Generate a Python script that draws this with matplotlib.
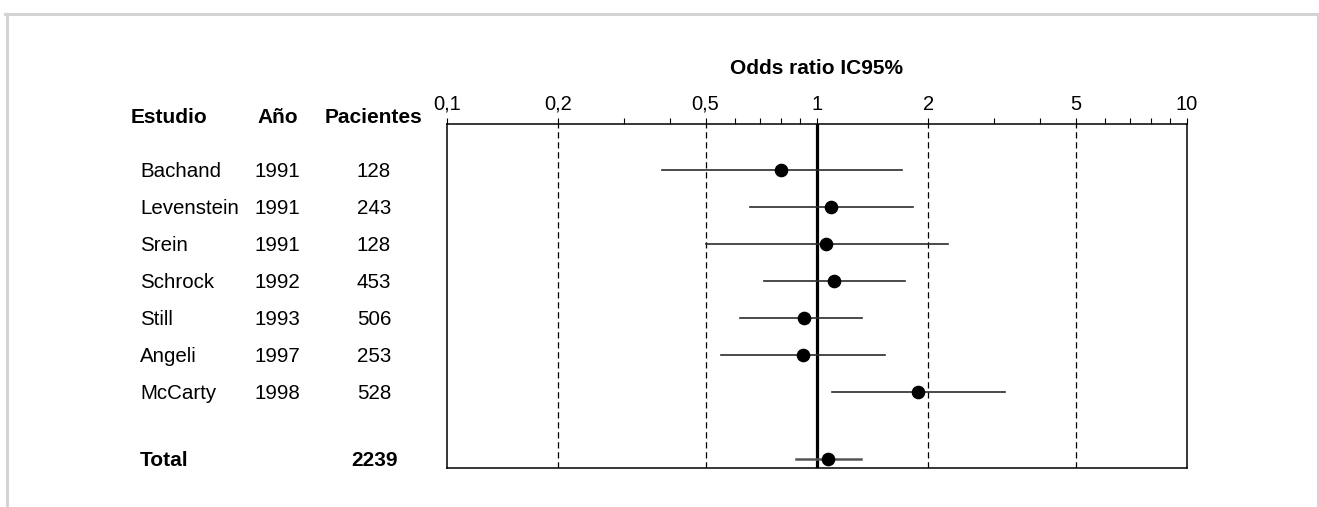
import numpy as np
import matplotlib
matplotlib.use("Agg")
from matplotlib import pyplot as plt
from matplotlib.transforms import blended_transform_factory
from matplotlib.lines import Line2D

plt.rcParams['font.family'] = ['Liberation Sans', 'DejaVu Sans']

# study data
estudios = ["Bachand", "Levenstein", "Srein", "Schrock", "Still", "Angeli", "McCarty"]
anios = [1991, 1991, 1991, 1992, 1993, 1997, 1998]
pacientes = [128, 243, 128, 453, 506, 253, 528]
odds = [0.80, 1.09, 1.06, 1.11, 0.92, 0.915, 1.87]
ci_low = [0.38, 0.66, 0.50, 0.72, 0.62, 0.55, 1.10]
ci_high = [1.70, 1.82, 2.26, 1.73, 1.32, 1.53, 3.22]

total_pacientes = 2239
total_odds = 1.07
total_low = 0.875
total_high = 1.315

major_ticks = [0.1, 0.2, 0.5, 1, 2, 5, 10]
major_labels = ["0,1", "0,2", "0,5", "1", "2", "5", "10"]
minor_ticks = [0.3, 0.4, 0.6, 0.7, 0.8, 0.9, 3, 4, 6, 7, 8, 9]
dashed_refs = [0.2, 0.5, 2, 5]

W, H = 1319, 507
fig = plt.figure(figsize=(W / 100, H / 100), dpi=100)

# axes box in pixels: left 447, right 1187, top 124, bottom 468
ax = fig.add_axes([447 / W, 1 - 468 / H, (1187 - 447) / W, (468 - 124) / H])
ax.set_xscale("log")
ax.set_xlim(0.1, 10)
row_px = 37.0
ax.set_ylim((468 - 170) / row_px, (124 - 170) / row_px)

rows = np.arange(len(estudios))
total_row = 7.8

for x in dashed_refs:
    ax.axvline(x, color="black", lw=0.9, ls=(0, (5, 3)), zorder=1)
ax.axvline(1, color="black", lw=2.3, zorder=2)

for i in rows:
    ax.plot([ci_low[i], ci_high[i]], [i, i], color="#2b2b2b", lw=1.2, zorder=3)
ax.plot(odds, rows, "o", color="black", ms=8.8, zorder=4)

ax.plot([total_low, total_high], [total_row, total_row], color="#555555", lw=1.8, zorder=3)
ax.plot([total_odds], [total_row], "o", color="black", ms=8.8, zorder=4)

ax.xaxis.tick_top()
ax.set_xticks(major_ticks)
ax.set_xticklabels(major_labels)
ax.set_xticks(minor_ticks, minor=True)
ax.xaxis.set_minor_formatter(matplotlib.ticker.NullFormatter())
ax.tick_params(axis="x", which="both", direction="out", length=4.5, width=0.8,
               pad=3, labelsize=14.5, top=True, bottom=False)
ax.set_yticks([])
for s in ax.spines.values():
    s.set_linewidth(1.1)

ax.text(1.0, (74 - 170) / row_px, "Odds ratio IC95%", ha="center", va="baseline",
        fontsize=15, fontweight="bold", transform=ax.transData)

# table columns on the left
tr = blended_transform_factory(fig.transFigure, ax.transData)
base = 7 / row_px
hy = (123.3 - 170) / row_px
ax.text(131 / W, hy, "Estudio", ha="left", va="baseline", fontsize=15, fontweight="bold", transform=tr)
ax.text(278 / W, hy, "Año", ha="center", va="baseline", fontsize=15, fontweight="bold", transform=tr)
ax.text(374 / W, hy, "Pacientes", ha="center", va="baseline", fontsize=15, fontweight="bold", transform=tr)

for i in rows:
    ax.text(140 / W, i + base, estudios[i], ha="left", va="baseline", fontsize=14.8, transform=tr)
    ax.text(277 / W, i + base, str(anios[i]), ha="center", va="baseline", fontsize=14.8, transform=tr)
    ax.text(374 / W, i + base, str(pacientes[i]), ha="center", va="baseline", fontsize=14.8, transform=tr)

ax.text(140 / W, total_row + base, "Total", ha="left", va="baseline", fontsize=15, fontweight="bold", transform=tr)
ax.text(374 / W, total_row + base, str(total_pacientes), ha="center", va="baseline", fontsize=15,
        fontweight="bold", transform=tr)

# light grey frame around the figure (open at the bottom)
gray = "#d4d4d4"
fig.add_artist(Line2D([5 / W, 1], [1 - 14 / H, 1 - 14 / H], color=gray, lw=2.2, transform=fig.transFigure))
fig.add_artist(Line2D([6.5 / W, 6.5 / W], [0, 1 - 14 / H], color=gray, lw=2.2, transform=fig.transFigure))
fig.add_artist(Line2D([1317.5 / W, 1317.5 / W], [0, 1 - 14 / H], color=gray, lw=1.5, transform=fig.transFigure))

fig.savefig("out.png", dpi=100)
